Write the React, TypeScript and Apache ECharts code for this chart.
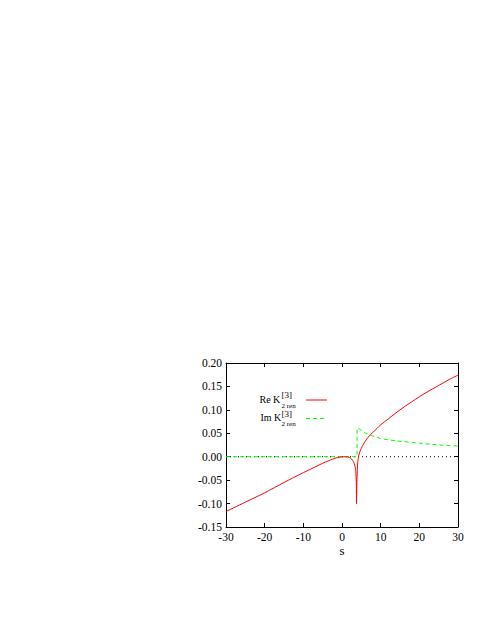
import React, { useEffect, useRef } from "react";
import * as echarts from "echarts";

const reS = [-30, -25, -20, -15, -10, -7, -5, -3, -2, -1, 0, 1, 1.5, 2, 2.5, 3, 3.3, 3.5, 3.6, 3.7, 3.75, 3.85, 3.95, 4.1, 4.3, 4.6, 5, 5.5, 6, 7, 8, 9, 10, 12, 15, 18, 20, 22, 25, 28, 30];
const reVals = [-0.117, -0.097, -0.077, -0.055, -0.034, -0.022, -0.014, -0.007, -0.004, -0.0015, -0.0003, 0.0, -0.0005, -0.002, -0.005, -0.011, -0.018, -0.027, -0.036, -0.055, -0.1, -0.055, -0.03, -0.01, 0.001, 0.01, 0.018, 0.026, 0.033, 0.044, 0.052, 0.06, 0.068, 0.081, 0.1, 0.117, 0.128, 0.138, 0.152, 0.166, 0.174];

const imS = [-30, 3.9, 3.9, 4.2, 5, 6, 7, 8, 10, 12, 15, 20, 25, 30];
const imVals = [0, 0, 0.061, 0.061, 0.056, 0.051, 0.047, 0.044, 0.039, 0.036, 0.033, 0.029, 0.025, 0.023];

const zeroS = [-30, 30];
const zeroVals = [0, 0];

const FONT = "'Liberation Serif', 'DejaVu Serif', serif";

export default function App() {
  const ref = useRef<HTMLDivElement>(null);
  useEffect(() => {
    if (!ref.current) return;
    const chart = echarts.init(ref.current, null, { renderer: "svg" });
    const zip = (a: number[], b: number[]) => a.map((v, i) => [v, b[i]]);
    const tick = { show: true, inside: true, length: 4, lineStyle: { color: "#000", width: 1 } };
    const axisLine = { show: true, onZero: false, lineStyle: { color: "#000", width: 1 } };
    const label = { color: "#000", fontFamily: FONT, fontSize: 11.5 };
    chart.setOption({
      animation: false,
      backgroundColor: "#fff",
      grid: { left: 226, right: 22, top: 363, bottom: 95, containLabel: false },
      xAxis: [
        {
          type: "value", min: -30, max: 30, interval: 10, position: "bottom",
          axisLine, axisTick: tick, splitLine: { show: false },
          axisLabel: { ...label, margin: 4 },
          name: "s", nameLocation: "middle", nameGap: 15,
          nameTextStyle: { color: "#000", fontFamily: FONT, fontSize: 13 },
        },
        {
          type: "value", min: -30, max: 30, interval: 10, position: "top",
          axisLine, axisTick: tick, splitLine: { show: false }, axisLabel: { show: false },
        },
      ],
      yAxis: [
        {
          type: "value", min: -0.15, max: 0.2, interval: 0.05, position: "left",
          axisLine, axisTick: tick, splitLine: { show: false },
          axisLabel: { ...label, margin: 4, formatter: (v: number) => v.toFixed(2) },
        },
        {
          type: "value", min: -0.15, max: 0.2, interval: 0.05, position: "right",
          axisLine, axisTick: tick, splitLine: { show: false }, axisLabel: { show: false },
        },
      ],
      series: [
        {
          type: "line", data: zip(zeroS, zeroVals), showSymbol: false, symbol: "none",
          lineStyle: { color: "#000", width: 1, type: [1, 3] }, z: 1, silent: true,
        },
        {
          name: "Im", type: "line", data: zip(imS, imVals), showSymbol: false, symbol: "none",
          lineStyle: { color: "#00ff00", width: 1, type: [4, 3] }, z: 2,
        },
        {
          name: "Re", type: "line", data: zip(reS, reVals), showSymbol: false, symbol: "none", smooth: 0.3,
          lineStyle: { color: "#ff0000", width: 1 }, z: 3,
        },
      ],
      graphic: [
        { type: "text", left: 259.5, top: 394.5, style: { text: "Re K", font: `10px ${FONT}`, fill: "#000" } },
        { type: "text", left: 281.5, top: 390.5, style: { text: "[3]", font: `9px ${FONT}`, fill: "#000" } },
        { type: "text", left: 281.5, top: 402, style: { text: "2 ren", font: `7px ${FONT}`, fill: "#000" } },
        { type: "line", shape: { x1: 306, y1: 400, x2: 327, y2: 400 }, style: { stroke: "#ff0000", lineWidth: 1 } },
        { type: "text", left: 260.5, top: 412.5, style: { text: "Im K", font: `10px ${FONT}`, fill: "#000" } },
        { type: "text", left: 281.5, top: 409, style: { text: "[3]", font: `9px ${FONT}`, fill: "#000" } },
        { type: "text", left: 281.5, top: 420.5, style: { text: "2 ren", font: `7px ${FONT}`, fill: "#000" } },
        { type: "line", shape: { x1: 306, y1: 418.5, x2: 327, y2: 418.5 }, style: { stroke: "#00ff00", lineWidth: 1, lineDash: [4, 3] } },
      ],
    });
    return () => chart.dispose();
  }, []);
  return <div ref={ref} style={{ width: 480, height: 622, position: "absolute", left: 0, top: 0 }} />;
}
